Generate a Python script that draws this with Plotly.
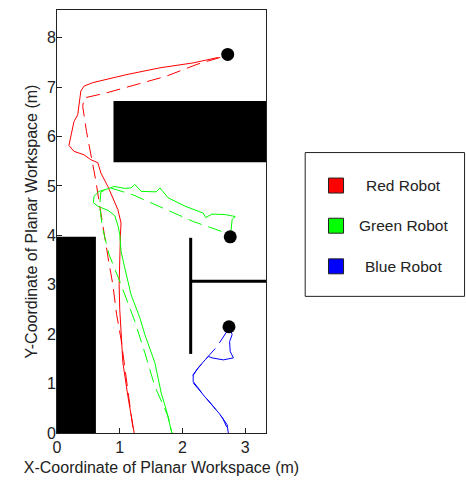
import plotly.graph_objects as go

# ---- data (metres) ----
red_solid_x = [2.57, 2.17, 1.64, 1.10, 0.57, 0.43, 0.38, 0.35, 0.33, 0.27, 0.22, 0.19, 0.27, 0.43, 0.54, 0.65, 0.70, 0.81, 0.97, 1.02, 1.01, 0.99, 1.00, 1.02, 1.05, 1.13, 1.18, 1.23]
red_solid_y = [7.60, 7.49, 7.39, 7.25, 7.09, 7.02, 6.92, 6.68, 6.44, 6.30, 6.00, 5.82, 5.70, 5.63, 5.53, 5.47, 5.26, 4.99, 4.52, 4.25, 3.98, 3.00, 2.50, 1.99, 1.42, 0.74, 0.35, 0.00]
red_dash_x = [2.60, 2.23, 1.74, 1.26, 0.78, 0.43, 0.41, 0.47, 0.55, 0.62, 0.68, 0.75, 0.82, 0.89, 0.95, 1.02, 1.08, 1.14, 1.22]
red_dash_y = [7.60, 7.46, 7.22, 7.05, 6.88, 6.78, 6.61, 6.10, 5.60, 5.10, 4.60, 4.00, 3.50, 3.00, 2.40, 1.90, 1.30, 0.70, 0.00]

green_solid_x = [2.77, 2.79, 2.84, 2.68, 2.47, 2.37, 2.33, 2.04, 1.77, 1.67, 1.64, 1.58, 1.34, 1.24, 1.18, 1.08, 0.91, 0.83, 0.67, 0.59, 0.58, 0.65, 0.82, 0.92, 0.97, 1.00, 1.02, 1.08, 1.18, 1.32, 1.40, 1.56, 1.66, 1.74, 1.83]
green_solid_y = [4.05, 4.32, 4.38, 4.42, 4.43, 4.36, 4.45, 4.59, 4.76, 4.90, 4.96, 4.88, 4.89, 5.03, 4.96, 4.95, 4.99, 4.95, 4.89, 4.79, 4.66, 4.59, 4.50, 4.40, 4.20, 4.02, 3.68, 3.34, 2.80, 2.33, 1.99, 1.42, 0.81, 0.47, 0.00]
green_dash_x = [2.62, 2.17, 1.69, 1.21, 0.85, 0.70, 0.68, 0.70, 0.72, 0.75, 0.83, 1.00, 1.24, 1.40, 1.56, 1.77, 1.83]
green_dash_y = [4.08, 4.28, 4.55, 4.82, 4.96, 4.88, 4.60, 4.35, 4.18, 4.02, 3.61, 3.07, 2.26, 1.62, 0.94, 0.34, 0.00]

blue_solid_x = [2.76, 2.79, 2.75, 2.76, 2.81, 2.65, 2.47, 2.41, 2.36, 2.25, 2.17, 2.17, 2.25, 2.33, 2.47, 2.60, 2.71, 2.73]
blue_solid_y = [2.10, 1.99, 1.85, 1.65, 1.52, 1.48, 1.52, 1.55, 1.48, 1.32, 1.18, 1.04, 0.91, 0.77, 0.57, 0.37, 0.17, 0.00]
blue_dash_x = [2.71, 2.55, 2.43, 2.35, 2.24, 2.16, 2.18, 2.26, 2.36, 2.50, 2.64, 2.74]
blue_dash_y = [2.06, 1.75, 1.58, 1.46, 1.30, 1.15, 1.00, 0.88, 0.72, 0.52, 0.30, 0.02]

goal_x = [2.72, 2.76, 2.74]
goal_y = [7.66, 3.97, 2.15]

# obstacles: [x0, x1, y0, y1]
obstacle_top = [0.90, 3.40, 5.48, 6.72]
obstacle_left = [0.0, 0.62, 0.0, 3.97]
wall_vertical = [2.13, 1.60, 3.95]   # x, y0, y1
wall_horizontal = [2.13, 3.40, 3.07]  # x0, x1, y

legend_names = ["Red Robot", "Green Robot", "Blue Robot"]
legend_colors = ["#ff0000", "#00ff00", "#0000ff"]

x_range = [0, 3.33]
y_range = [0, 8.56]
x_ticks = [0, 1, 2, 3]
y_ticks = [0, 1, 2, 3, 4, 5, 6, 7, 8]

FONT = "Arial, Liberation Sans, sans-serif"
DASH = "14px,7px"

fig = go.Figure()

def add_line(x, y, color, dash=None):
    fig.add_trace(go.Scatter(x=x, y=y, mode="lines",
                             line=dict(color=color, width=1, dash=dash),
                             showlegend=False, hoverinfo="skip"))

add_line(red_solid_x, red_solid_y, "#ff0000")
add_line(red_dash_x, red_dash_y, "#ff0000", DASH)
add_line(green_solid_x, green_solid_y, "#00ff00")
add_line(green_dash_x, green_dash_y, "#00ff00", DASH)
add_line(blue_solid_x, blue_solid_y, "#0000ff")
add_line(blue_dash_x, blue_dash_y, "#0000ff", DASH)

fig.add_trace(go.Scatter(x=goal_x, y=goal_y, mode="markers",
                         marker=dict(color="black", size=13),
                         showlegend=False, hoverinfo="skip"))

shapes = []
for ob in (obstacle_top, obstacle_left):
    shapes.append(dict(type="rect", xref="x", yref="y", x0=ob[0], x1=ob[1], y0=ob[2], y1=ob[3],
                       fillcolor="black", line=dict(width=0), layer="above"))
shapes.append(dict(type="line", xref="x", yref="y", x0=wall_vertical[0], x1=wall_vertical[0],
                   y0=wall_vertical[1], y1=wall_vertical[2], line=dict(color="black", width=3)))
shapes.append(dict(type="line", xref="x", yref="y", x0=wall_horizontal[0], x1=wall_horizontal[1],
                   y0=wall_horizontal[2], y1=wall_horizontal[2], line=dict(color="black", width=3)))

# legend box (paper coords)
shapes.append(dict(type="rect", xref="paper", yref="paper", x0=1.1875, x1=1.95, y0=0.323, y1=0.663,
                   fillcolor="white", line=dict(color="#222", width=1)))
legend_y = [0.585, 0.490, 0.394]
annotations = []
for name, col, yy in zip(legend_names, legend_colors, legend_y):
    shapes.append(dict(type="rect", xref="paper", yref="paper", x0=1.299, x1=1.371,
                       y0=yy - 0.0177, y1=yy + 0.0177, fillcolor=col, line=dict(color="#222", width=1)))
    annotations.append(dict(xref="paper", yref="paper", x=1.66, y=yy, text=name, showarrow=False,
                            xanchor="center", yanchor="middle",
                            font=dict(family=FONT, size=15.5, color="#222")))

fig.update_layout(
    width=466, height=481,
    margin=dict(l=57, r=200, t=10, b=48, autoexpand=False),
    paper_bgcolor="white", plot_bgcolor="white",
    shapes=shapes, annotations=annotations,
    font=dict(family=FONT, color="#222"),
    xaxis=dict(range=x_range, tickvals=x_ticks, ticks="inside", ticklen=5, tickcolor="#222",
               showline=True, linecolor="#222", linewidth=1, mirror=True, showgrid=False,
               zeroline=False, tickfont=dict(size=16, color="#222"), automargin=False,
               title=dict(text="X-Coordinate of Planar Workspace (m)", font=dict(size=16, color="#222"), standoff=6)),
    yaxis=dict(range=y_range, tickvals=y_ticks, ticks="inside", ticklen=5, tickcolor="#222",
               showline=True, linecolor="#222", linewidth=1, mirror=True, showgrid=False,
               zeroline=False, tickfont=dict(size=16, color="#222"), ticklabelstandoff=-3, automargin=False,
               title=dict(text="Y-Coordinate of Planar Workspace (m)", font=dict(size=16, color="#222"), standoff=5)),
)

fig.write_html("out.html")
